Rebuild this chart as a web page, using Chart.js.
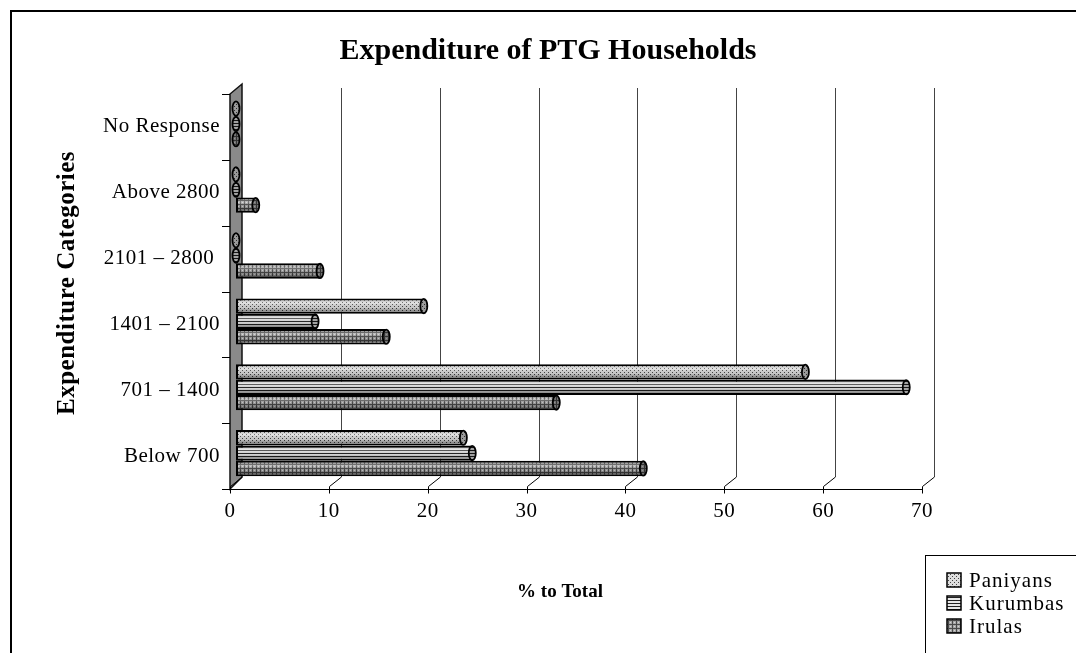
<!DOCTYPE html>
<html>
<head>
<meta charset="utf-8">
<title>Expenditure of PTG Households</title>
<script src="https://cdn.jsdelivr.net/npm/chart.js@4.4.1/dist/chart.umd.min.js"></script>
<style>
  html, body { margin: 0; padding: 0; background: #fff; overflow: hidden; }
  canvas { display: block; }
</style>
</head>
<body>
<canvas id="chart" width="1076" height="653"></canvas>
<script>
// data (% to total)
const categories = ['No Response', 'Above 2800', '2101 \u2013 2800 ', '1401 \u2013 2100', '701 \u2013 1400', 'Below 700'];
const paniyans = [0, 0, 0, 19.0, 57.6, 23.0];
const kurumbas = [0, 0, 0, 8.0, 67.8, 23.9];
const irulas = [0, 2.0, 8.5, 15.2, 32.4, 41.2];
const seriesNames = ['Paniyans', 'Kurumbas', 'Irulas'];
const xMin = 0, xMax = 70, xStep = 10;

const SERIF = '"Liberation Serif", "Times New Roman", serif';

// 3D look: bars sit on the mid plane (chart area), front axis and back wall offset from it
const FRONT = { dx: -6, dy: 3 };
const BACK = { dx: 6, dy: -9 };

const canvas = document.getElementById('chart');
const mainCtx = canvas.getContext('2d');

// small tiles for the hatch fills
function makePattern(kind) {
    const t = document.createElement('canvas');
    t.width = 4; t.height = 4;
    const c = t.getContext('2d');
    if (kind === 'dots') {
        c.fillStyle = '#dedede';
        c.fillRect(0, 0, 4, 4);
        c.fillStyle = '#444';
        c.fillRect(0, 0, 1, 1);
        c.fillRect(2, 2, 1, 1);
    } else if (kind === 'lines') {
        t.height = 3;
        c.fillStyle = '#e8e8e8';
        c.fillRect(0, 0, 4, 3);
        c.fillStyle = '#222';
        c.fillRect(0, 0, 4, 1);
    } else {
        c.fillStyle = '#a6a6a6';
        c.fillRect(0, 0, 4, 4);
        c.fillStyle = '#4a4a4a';
        c.fillRect(0, 0, 4, 1);
        c.fillRect(0, 0, 1, 4);
        c.fillStyle = '#d6d6d6';
        c.fillRect(2, 2, 1, 1);
    }
    return mainCtx.createPattern(t, 'repeat');
}

const fills = [makePattern('dots'), makePattern('lines'), makePattern('grid')];

// wall, back gridlines, bar shading and the front axis
const backdropPlugin = {
    id: 'backdrop',
    beforeDraw(chart) {
        chart.ctx.letterSpacing = '0.5px';
    },
    beforeDatasetsDraw(chart) {
        const ctx = chart.ctx;
        const area = chart.chartArea;
        const xs = chart.scales.x;
        const ys = chart.scales.y;
        ctx.save();
        ctx.letterSpacing = '0px';

        // back gridlines
        ctx.strokeStyle = '#444';
        ctx.lineWidth = 1;
        for (let v = xMin + xStep; v <= xMax; v += xStep) {
            const bx = Math.round(xs.getPixelForValue(v) + BACK.dx) + 0.5;
            ctx.beginPath();
            ctx.moveTo(bx, area.top - 3);
            ctx.lineTo(bx, area.bottom + BACK.dy);
            ctx.stroke();
        }

        // left wall
        const fx = xs.getPixelForValue(xMin) + FRONT.dx;
        const bx = xs.getPixelForValue(xMin) + BACK.dx;
        ctx.beginPath();
        ctx.moveTo(fx, area.bottom + FRONT.dy);
        ctx.lineTo(fx, area.top + FRONT.dy);
        ctx.lineTo(bx, area.top + BACK.dy + 2);
        ctx.lineTo(bx, area.bottom + BACK.dy);
        ctx.closePath();
        ctx.fillStyle = '#8a8a8a';
        ctx.fill();
        ctx.strokeStyle = '#111';
        ctx.lineWidth = 1.5;
        ctx.stroke();

        // category boundary ticks on the front edge
        ctx.lineWidth = 1;
        ctx.strokeStyle = '#000';
        const half = (ys.getPixelForValue(1) - ys.getPixelForValue(0)) / 2;
        for (let i = 0; i <= categories.length; i++) {
            const y = Math.round(ys.getPixelForValue(i) - half + FRONT.dy) + 0.5;
            ctx.beginPath();
            ctx.moveTo(fx - 8, y);
            ctx.lineTo(fx, y);
            ctx.stroke();
        }
        ctx.restore();
    },
    afterDatasetsDraw(chart) {
        const ctx = chart.ctx;
        ctx.save();
        chart.data.datasets.forEach((ds, di) => {
            const meta = chart.getDatasetMeta(di);
            meta.data.forEach((bar) => {
                const p = bar.getProps(['x', 'y', 'base', 'height'], true);
                const top = p.y - p.height / 2;
                const bottom = p.y + p.height / 2;
                const left = Math.min(p.base, p.x);
                const right = Math.max(p.base, p.x);
                // cylinder shading
                if (right - left > 2) {
                    const g = ctx.createLinearGradient(0, top, 0, bottom);
                    g.addColorStop(0, 'rgba(0,0,0,0.2)');
                    g.addColorStop(0.3, 'rgba(255,255,255,0.3)');
                    g.addColorStop(0.6, 'rgba(0,0,0,0.1)');
                    g.addColorStop(1, 'rgba(0,0,0,0.6)');
                    ctx.fillStyle = g;
                    ctx.fillRect(left + 2, top + 2, right - left - 4, bottom - top - 4);
                }
                // end cap
                ctx.beginPath();
                ctx.ellipse(right, p.y, 3.5, p.height / 2 - 0.5, 0, 0, Math.PI * 2);
                ctx.fillStyle = fills[di];
                ctx.fill();
                ctx.fillStyle = 'rgba(0,0,0,0.3)';
                ctx.fill();
                ctx.strokeStyle = '#000';
                ctx.lineWidth = 1.8;
                ctx.stroke();
            });
        });
        ctx.restore();
    },
    afterDraw(chart) {
        const ctx = chart.ctx;
        const area = chart.chartArea;
        const xs = chart.scales.x;
        ctx.save();

        // front axis with slanted ticks into the depth
        const fy = Math.round(area.bottom + FRONT.dy) + 0.5;
        ctx.strokeStyle = '#000';
        ctx.lineWidth = 1;
        ctx.beginPath();
        ctx.moveTo(xs.getPixelForValue(xMin) + FRONT.dx - 2, fy);
        ctx.lineTo(xs.getPixelForValue(xMax) + FRONT.dx, fy);
        ctx.stroke();
        for (let v = xMin; v <= xMax; v += xStep) {
            const px = Math.round(xs.getPixelForValue(v) + FRONT.dx) + 0.5;
            ctx.beginPath();
            ctx.moveTo(px, fy + 4);
            ctx.lineTo(px, fy - 3);
            ctx.lineTo(px + (BACK.dx - FRONT.dx), area.bottom + BACK.dy);
            ctx.stroke();
        }

        // titles
        ctx.fillStyle = '#000';
        ctx.textAlign = 'center';
        ctx.textBaseline = 'alphabetic';
        ctx.font = 'bold 30px ' + SERIF;
        ctx.letterSpacing = '0px';
        ctx.fillText('Expenditure of PTG Households', 548, 59);

        ctx.textBaseline = 'middle';
        ctx.font = 'bold 19px ' + SERIF;
        ctx.fillText('% to Total', 560, 592);

        ctx.save();
        ctx.translate(68, 283);
        ctx.rotate(-Math.PI / 2);
        ctx.font = 'bold 25px ' + SERIF;
        ctx.letterSpacing = '0.5px';
        ctx.fillText('Expenditure Categories', 0, 0);
        ctx.restore();

        // legend box
        ctx.lineWidth = 1;
        ctx.strokeStyle = '#000';
        ctx.strokeRect(925.5, 555.5, 200, 120);
        ctx.textAlign = 'left';
        ctx.font = '21px ' + SERIF;
        ctx.letterSpacing = '1px';
        chart.data.datasets.forEach((ds, i) => {
            const y = 580 + i * 23;
            ctx.fillStyle = fills[i];
            ctx.fillRect(947, y - 7, 14, 14);
            ctx.strokeStyle = '#000';
            ctx.lineWidth = 1.5;
            ctx.strokeRect(947, y - 7, 14, 14);
            ctx.fillStyle = '#000';
            ctx.fillText(ds.label, 969, y + 1);
        });

        // outer frame
        ctx.lineWidth = 2;
        ctx.strokeStyle = '#000';
        ctx.beginPath();
        ctx.moveTo(11, 660);
        ctx.lineTo(11, 11);
        ctx.lineTo(1080, 11);
        ctx.stroke();
        ctx.restore();
    }
};

const seriesValues = [paniyans, kurumbas, irulas];

const chart = new Chart(canvas, {
    type: 'bar',
    data: {
        labels: categories,
        datasets: seriesNames.map((name, i) => ({
            label: name,
            data: seriesValues[i],
            backgroundColor: fills[i],
            borderColor: '#000',
            borderWidth: 2,
            borderSkipped: false,
            barPercentage: 1.0,
            categoryPercentage: 0.7
        }))
    },
    options: {
        indexAxis: 'y',
        responsive: false,
        animation: false,
        devicePixelRatio: 1,
        layout: {
            padding: { top: 91, right: 148, bottom: 0, left: 0 }
        },
        plugins: {
            legend: { display: false },
            title: { display: false },
            tooltip: { enabled: false }
        },
        scales: {
            x: {
                min: xMin,
                max: xMax,
                grid: { display: false, drawTicks: false, tickLength: 0 },
                border: { display: false },
                ticks: {
                    stepSize: xStep,
                    color: '#000',
                    padding: 13,
                    labelOffset: FRONT.dx,
                    maxRotation: 0,
                    font: { family: SERIF, size: 21 }
                },
                afterFit(scale) { scale.height = 167; }
            },
            y: {
                grid: { display: false, drawTicks: false, tickLength: 0 },
                border: { display: false },
                ticks: {
                    color: '#000',
                    padding: 16,
                    labelOffset: FRONT.dy,
                    font: { family: SERIF, size: 21 }
                },
                afterFit(scale) { scale.width = 236; }
            }
        }
    },
    plugins: [backdropPlugin]
});
</script>
</body>
</html>
